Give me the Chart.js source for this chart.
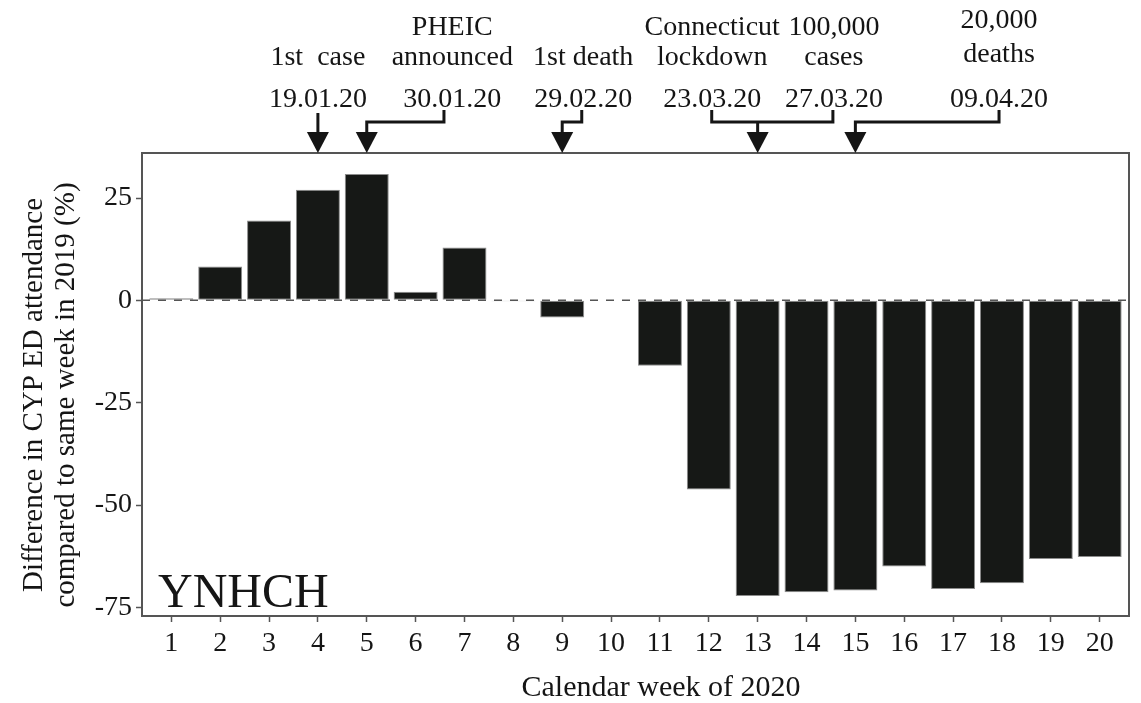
<!DOCTYPE html>
<html>
<head>
<meta charset="utf-8">
<script src="https://cdn.jsdelivr.net/npm/chart.js@4.4.0/dist/chart.umd.min.js"></script>
<style>
  html, body { margin: 0; padding: 0; background: #fff; }
  #wrap { width: 1141px; height: 703px; }
</style>
</head>
<body>
<div id="wrap"><canvas id="weekChart"></canvas></div>
<script>
/* Data */
const weeks = [1, 2, 3, 4, 5, 6, 7, 8, 9, 10, 11, 12, 13, 14, 15, 16, 17, 18, 19, 20];
const diffPct = [0.5, 8.3, 19.5, 27.0, 30.9, 2.1, 12.9, -0.2, -4.2, 0, -16.0, -46.2, -72.2, -71.3, -70.9, -65.0, -70.5, -69.1, -63.2, -62.7];
const yTicks = [-75, -50, -25, 0, 25];

const eventLabels = [['1st  case'], ['PHEIC', 'announced'], ['1st death'], ['Connecticut', 'lockdown'], ['100,000', 'cases'], ['20,000', 'deaths']];
const eventDates = ['19.01.20', '30.01.20', '29.02.20', '23.03.20', '27.03.20', '09.04.20'];
const eventWeeks = [4, 5, 9, 13, 13, 15];

const siteName = 'YNHCH';
const xTitle = 'Calendar week of 2020';
const yTitle = ['Difference in CYP ED attendance', 'compared to same week in 2019 (%)'];

/* Styles */
const serif = '"Liberation Serif", "Times New Roman", serif';
const ink = '#151515';
const axisGrey = '#555555';

// where the event texts sit (in week units) and where their connectors leave
const labelCentre = [4.0, 6.75, 9.43, 12.07, 14.56, 17.94];
const linkStart = [4.0, 6.58, 9.4, 12.06, 14.54, 17.94];

const decorations = {
    id: 'decorations',
    afterDatasetsDraw: function (chart) {
        let ctx = chart.ctx;
        let area = chart.chartArea;
        let y0 = chart.scales.y.getPixelForValue(0);

        ctx.save();
        ctx.strokeStyle = axisGrey;
        ctx.lineWidth = 1.5;
        ctx.setLineDash([8, 8]);
        ctx.beginPath();
        ctx.moveTo(area.left, y0);
        ctx.lineTo(area.right, y0);
        ctx.stroke();
        ctx.restore();
    },
    afterDraw: function (chart) {
        let ctx = chart.ctx;
        let area = chart.chartArea;
        let x = chart.scales.x;

        ctx.save();

        // panel box
        ctx.strokeStyle = axisGrey;
        ctx.lineWidth = 2;
        ctx.strokeRect(area.left, area.top, area.right - area.left, area.bottom - area.top);

        // event texts
        ctx.fillStyle = ink;
        ctx.font = '28px ' + serif;
        ctx.textAlign = 'center';
        ctx.textBaseline = 'alphabetic';
        for (let i = 0; i < eventLabels.length; i++) {
            let cx = x.getPixelForValue(labelCentre[i]);
            let lines = eventLabels[i];
            let bases = lines.length === 1 ? [65] : (i === 5 ? [28, 62] : [35, 65]);
            lines.forEach(function (t, j) {
                ctx.fillText(t, cx, bases[j]);
            });
            ctx.fillText(eventDates[i], cx, 107);
        }

        // connectors and arrows
        let tipY = area.top;
        let headY = area.top - 20;
        ctx.strokeStyle = ink;
        ctx.lineWidth = 3;
        ctx.lineJoin = 'miter';

        function arrowHead(px) {
            ctx.beginPath();
            ctx.moveTo(px - 11, headY - 1);
            ctx.lineTo(px + 11, headY - 1);
            ctx.lineTo(px, tipY);
            ctx.closePath();
            ctx.fill();
        }

        let done = {};
        for (let i = 0; i < eventWeeks.length; i++) {
            let tx = x.getPixelForValue(eventWeeks[i]);
            let fx = x.getPixelForValue(linkStart[i]);
            ctx.beginPath();
            if (Math.abs(fx - tx) < 2) {
                ctx.moveTo(tx, 113);
                ctx.lineTo(tx, headY);
            } else if (eventWeeks.indexOf(eventWeeks[i]) !== eventWeeks.lastIndexOf(eventWeeks[i])) {
                // bracket joining two events onto one arrow
                let first = eventWeeks.indexOf(eventWeeks[i]);
                let last = eventWeeks.lastIndexOf(eventWeeks[i]);
                if (done[eventWeeks[i]]) continue;
                done[eventWeeks[i]] = true;
                let ax = x.getPixelForValue(linkStart[first]);
                let bx = x.getPixelForValue(linkStart[last]);
                ctx.moveTo(ax, 110);
                ctx.lineTo(ax, 122);
                ctx.lineTo(bx, 122);
                ctx.lineTo(bx, 110);
                ctx.moveTo(tx, 122);
                ctx.lineTo(tx, headY);
            } else {
                ctx.moveTo(fx, 110);
                ctx.lineTo(fx, 122);
                ctx.lineTo(tx, 122);
                ctx.lineTo(tx, headY);
            }
            ctx.stroke();
            arrowHead(tx);
        }

        // panel tag
        ctx.font = '48px ' + serif;
        ctx.textAlign = 'left';
        ctx.fillText(siteName, 158, 607);

        // axis titles
        ctx.font = '30px ' + serif;
        ctx.textAlign = 'center';
        ctx.fillText(xTitle, 661, 696);

        ctx.font = '29px ' + serif;
        ctx.textBaseline = 'middle';
        [34, 66].forEach(function (lx, j) {
            ctx.save();
            ctx.translate(lx, 395);
            ctx.rotate(-Math.PI / 2);
            ctx.fillText(yTitle[j], 0, 0);
            ctx.restore();
        });

        ctx.restore();
    }
};

let ctx = document.getElementById('weekChart').getContext('2d');

let graphic = new Chart(ctx, {
    type: 'bar',
    data: {
        datasets: [
            {
                label: 'Difference (%)',
                data: weeks.map(function (w, i) { return { x: w, y: diffPct[i] }; }),
                backgroundColor: '#161816',
                borderColor: '#8c8c8c',
                borderWidth: 1,
                borderSkipped: false,
                barPercentage: 0.9,
                categoryPercentage: 1
            }
        ]
    },
    options: {
        responsive: true,
        maintainAspectRatio: false,
        animation: false,
        layout: {
            padding: { top: 153, right: 12, bottom: 0, left: 0 }
        },
        plugins: {
            legend: { display: false },
            tooltip: { enabled: false }
        },
        scales: {
            x: {
                type: 'linear',
                min: 0.4,
                max: 20.6,
                offset: false,
                afterBuildTicks: function (scale) {
                    scale.ticks = weeks.map(function (w) { return { value: w }; });
                },
                afterFit: function (scale) {
                    scale.height = 87;
                },
                grid: {
                    offset: false,
                    drawOnChartArea: false,
                    drawTicks: true,
                    tickLength: 6,
                    tickColor: axisGrey,
                    tickWidth: 1.5
                },
                border: { color: axisGrey, width: 2 },
                ticks: {
                    padding: 5,
                    color: ink,
                    font: { family: serif, size: 28 },
                    maxRotation: 0,
                    autoSkip: false,
                    callback: function (v) { return v; }
                }
            },
            y: {
                min: -77.1,
                max: 36.0,
                afterBuildTicks: function (scale) {
                    scale.ticks = yTicks.map(function (v) { return { value: v }; });
                },
                afterFit: function (scale) {
                    scale.width = 142;
                },
                grid: {
                    drawOnChartArea: false,
                    drawTicks: true,
                    tickLength: 6,
                    tickColor: axisGrey,
                    tickWidth: 1.5
                },
                border: { color: axisGrey, width: 2 },
                ticks: {
                    padding: 4,
                    color: ink,
                    font: { family: serif, size: 28 },
                    callback: function (v) { return v; }
                }
            }
        }
    },
    plugins: [decorations]
});
</script>
</body>
</html>
